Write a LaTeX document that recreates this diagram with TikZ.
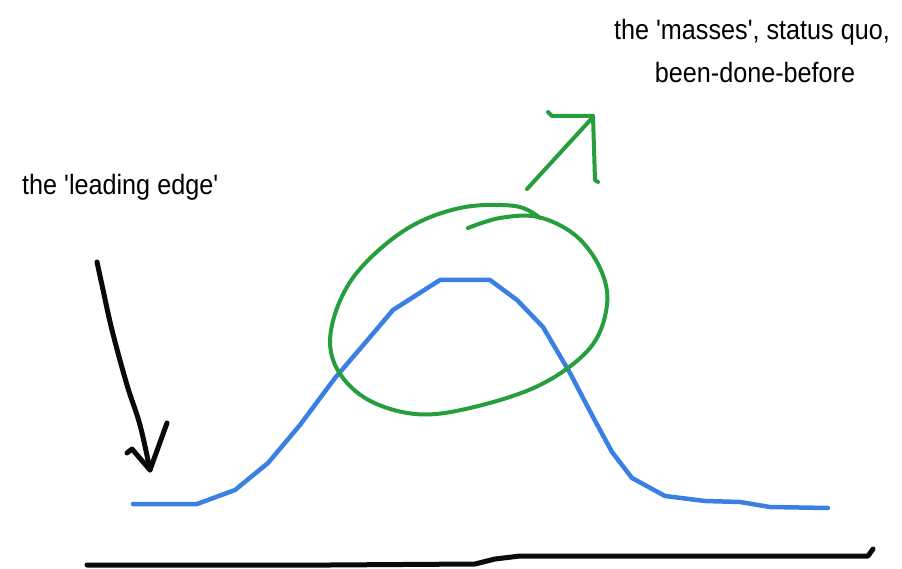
\documentclass[tikz,border=0pt]{standalone}
\usepackage{fontspec}
\setmainfont{Liberation Sans}
\begin{document}
\begin{tikzpicture}[x=1pt,y=-1pt, line cap=round, line join=round]
        % -- colour definitions --------------------------------------------------
        \definecolor{curvecolor}{RGB}{58,128,228}
        \definecolor{loopcolor}{RGB}{38,158,62}
        \definecolor{inkcolor}{RGB}{10,10,10}

        \useasboundingbox (0,0) rectangle (902,569);

        % -- labels --------------------------------------------------------------
        \node[anchor=base west, inner sep=0, xscale=0.9, font=\fontsize{28}{34}\selectfont]
            (leadlabel) at (22,195) {the \textquotesingle leading edge\textquotesingle};
        \node[anchor=base, inner sep=0, xscale=0.9, font=\fontsize{28}{34}\selectfont]
            (masslabel) at (752,40) {the \textquotesingle masses\textquotesingle, status quo,};
        \node[anchor=base, inner sep=0, xscale=0.9, font=\fontsize{28}{34}\selectfont]
            (donelabel) at (755,83) {been-done-before};

        % -- distribution curve --------------------------------------------------
        \draw[curvecolor, line width=4.5pt]
            (133,504) -- (197,504) -- (235,490) -- (268,463) -- (300,425)
            -- (335,378) -- (365,343) -- (393,310) -- (440,280) -- (490,280)
            -- (517,300) -- (543,327) -- (570,373) -- (593,417) -- (612,452)
            -- (632,478) -- (665,496) -- (705,501) -- (740,502) -- (770,507)
            -- (828,508);

        % -- loop round the masses -----------------------------------------------
        \draw[loopcolor, line width=4pt] plot[smooth, tension=0.6] coordinates {
            (468,228) (500,218) (538,217) (575,235) (600,268) (607,305)
            (590,348) (540,385) (470,408) (415,414) (365,398) (335,365)
            (332,325) (355,275) (405,230) (460,208) (515,206) (540,218)};

        % -- arrow out of the loop -----------------------------------------------
        \draw[loopcolor, line width=4pt] (527,189) -- (593,117);
        \draw[loopcolor, line width=4pt] (548,112) -- (552,116) -- (593,116);
        \draw[loopcolor, line width=4pt] (593,116) -- (595,180) -- (598,182);

        % -- arrow to the leading edge -------------------------------------------
        \draw[inkcolor, line width=5pt] plot[smooth, tension=0.6] coordinates {
            (97,262) (102,285) (112,330) (127,385) (140,425) (150,470)};
        \draw[inkcolor, line width=5pt] (127,453) -- (132,449) -- (150,470) -- (167,423);

        % -- baseline ------------------------------------------------------------
        \draw[inkcolor, line width=5pt]
            (87,565) -- (330,565) -- (475,564) -- (495,559) -- (520,556)
            -- (868,556) -- (873,549);
    \end{tikzpicture}
\end{document}
